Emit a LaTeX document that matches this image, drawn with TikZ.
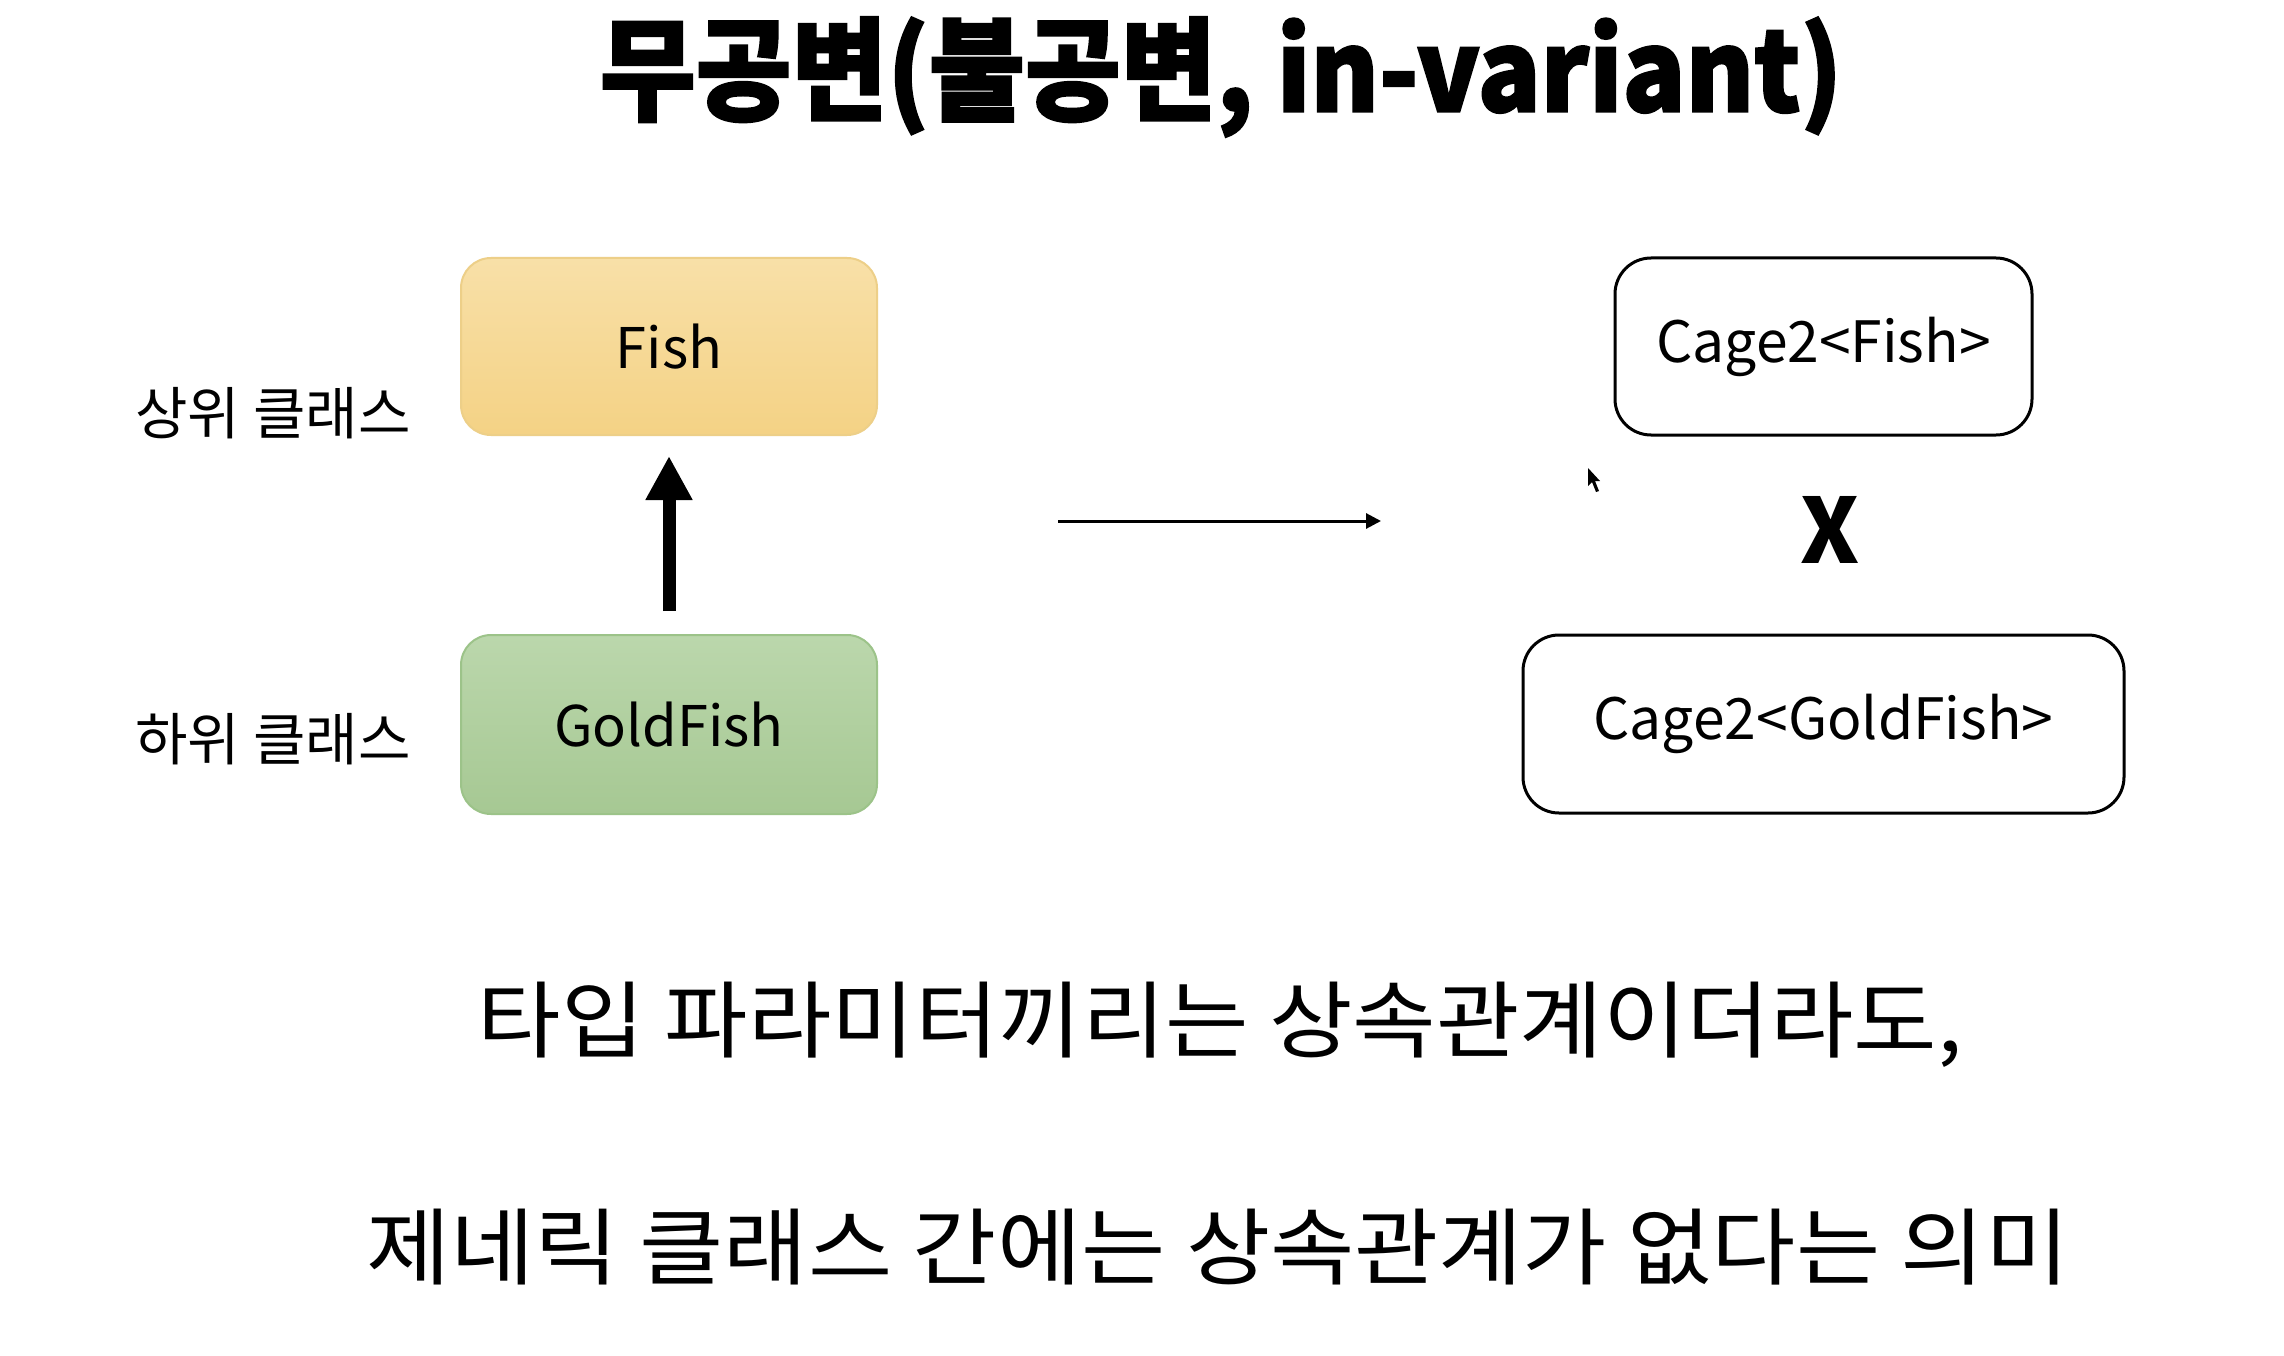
\documentclass[tikz,border=0pt]{standalone}
\usepackage{fontspec}
\usepackage{graphicx}
\setmainfont{Noto Sans CJK KR}
\newfontfamily\kr{Noto Sans CJK KR}
\newfontfamily\krtitle{Noto Sans CJK KR}[BoldFeatures={FakeBold=2}]
\usetikzlibrary{arrows.meta}
\definecolor{fishtop}{HTML}{F8E0A8}
\definecolor{fishbot}{HTML}{F4D285}
\definecolor{fishline}{HTML}{EDCF88}
\definecolor{goldtop}{HTML}{BBD7AC}
\definecolor{goldbot}{HTML}{A6C893}
\definecolor{goldline}{HTML}{9CC389}
\tikzset{
  classbox/.style={rounded corners=30pt, line width=2pt, inner sep=0pt,
    font=\kr\fontsize{56}{60}\selectfont},
  cagebox/.style={rounded corners=36pt, draw=black, line width=3pt, fill=white,
    inner sep=0pt, font=\kr\fontsize{57}{60}\selectfont},
  sidelabel/.style={font=\kr\fontsize{57}{60}\selectfont, inner sep=0pt},
  bodytext/.style={font=\kr\fontsize{84}{96}\selectfont, inner sep=0pt},
  thickarrow/.style={line width=13pt, -{Triangle[width=44pt,length=44pt]}},
  thinarrow/.style={line width=3pt, -{Triangle[width=15pt,length=15pt]}}
}
\begin{document}
\begin{tikzpicture}[x=1pt,y=-1pt]
\fill[white] (0,0) rectangle (2284,1356);
\useasboundingbox (0,0) rectangle (2284,1356);

% title
\node[inner sep=0pt] (title) at (1221,77)
  {\scalebox{0.93}[1]{\krtitle\bfseries\fontsize{112}{120}\selectfont 무공변(불공변, in-variant)}};

% class boxes
\node[classbox, draw=fishline, top color=fishtop, bottom color=fishbot,
  minimum width=416pt, minimum height=177pt] (fish) at (669,346.5) {Fish};
\node[classbox, draw=goldline, top color=goldtop, bottom color=goldbot,
  minimum width=416pt, minimum height=179pt] (gold) at (669,724.5) {GoldFish};

% side labels
\node[sidelabel] (upper) at (273,413) {상위 클래스};
\node[sidelabel] (lower) at (273,739) {하위 클래스};

% inheritance arrow
\draw[thickarrow, shorten <=23pt, shorten >=20pt] (gold.north) -- (fish.south);

% middle arrow
\coordinate (ma) at (1058,521);
\coordinate (mb) at (1381,521);
\draw[thinarrow] (ma) -- (mb);

% cage boxes
\node[cagebox, minimum width=417pt, minimum height=177pt] (cfish) at (1823.5,346.5) {Cage2<Fish>};
\node[cagebox, minimum width=601pt, minimum height=178pt] (cgold) at (1823.5,724) {Cage2<GoldFish>};

% X mark
\node[inner sep=0pt, font=\kr\bfseries\fontsize{90}{100}\selectfont] (x) at (1830,530) {X};

% cursor
\fill[black] (1588,468) -- (1588,486) -- (1592,482) -- (1596,492) -- (1599,491) -- (1595,481) -- (1600,481) -- cycle;

% bottom text
\node[bodytext] (line1) at (1220,1025) {\scalebox{1.08}[1]{타입 파라미터끼리는 상속관계이더라도,}};
\node[bodytext] (line2) at (1218,1247) {\scalebox{1.09}[1]{제네릭 클래스 간에는 상속관계가 없다는 의미}};
\end{tikzpicture}
\end{document}
